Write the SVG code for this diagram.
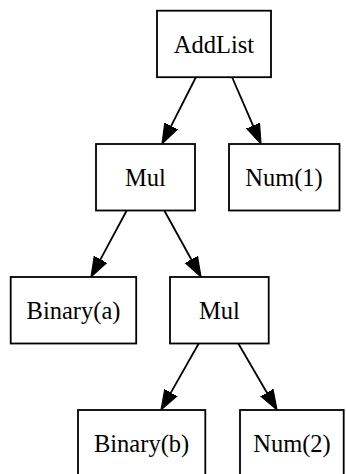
<svg xmlns="http://www.w3.org/2000/svg" width="346" height="474" viewBox="0 0 346 474">
<style>
.box{fill:#fff;stroke:#000;stroke-width:1.8}
.lbl{font-family:"Liberation Serif","Times New Roman",serif;font-size:24.5px;text-anchor:middle;fill:#000}
.edge{stroke:#000;stroke-width:1.8;fill:none}
</style>
<defs>
<marker id="arr" markerUnits="userSpaceOnUse" markerWidth="22" markerHeight="16" refX="0" refY="7" orient="auto" viewBox="0 0 22 14">
<path d="M0,0 L20,7 L0,14 z" fill="#000" stroke="#000" stroke-width="1.2"/>
</marker>
</defs>
<rect width="346" height="474" fill="#fff"/>
<g id="connectors">
<line class="edge" x1="196" y1="77" x2="171.05" y2="126.16" marker-end="url(#arr)"/>
<line class="edge" x1="232" y1="77" x2="253.06" y2="125.64" marker-end="url(#arr)"/>
<line class="edge" x1="127" y1="210" x2="100.47" y2="259.38" marker-end="url(#arr)"/>
<line class="edge" x1="164" y1="210" x2="191.33" y2="259.49" marker-end="url(#arr)"/>
<line class="edge" x1="199" y1="343" x2="170.87" y2="392.6" marker-end="url(#arr)"/>
<line class="edge" x1="238" y1="343" x2="266.94" y2="392.71" marker-end="url(#arr)"/>
</g>
<g id="addlist"><rect class="box" x="157" y="10.7" width="114" height="66.5"/><text class="lbl" x="214" y="53">AddList</text></g>
<g id="mul1"><rect class="box" x="96" y="144" width="99" height="66.5"/><text class="lbl" x="145.5" y="186">Mul</text></g>
<g id="num1"><rect class="box" x="229" y="144" width="110.5" height="66.5"/><text class="lbl" x="284" y="186">Num(1)</text></g>
<g id="binary_a"><rect class="box" x="10.7" y="277" width="125.5" height="66.5"/><text class="lbl" x="73.5" y="319">Binary(a)</text></g>
<g id="mul2"><rect class="box" x="170" y="277" width="98.7" height="66.5"/><text class="lbl" x="219.3" y="319">Mul</text></g>
<g id="binary_b"><rect class="box" x="78" y="410" width="127.3" height="66.5"/><text class="lbl" x="141.6" y="452">Binary(b)</text></g>
<g id="num2"><rect class="box" x="240" y="410" width="103.7" height="66.5"/><text class="lbl" x="292" y="452">Num(2)</text></g>
</svg>
